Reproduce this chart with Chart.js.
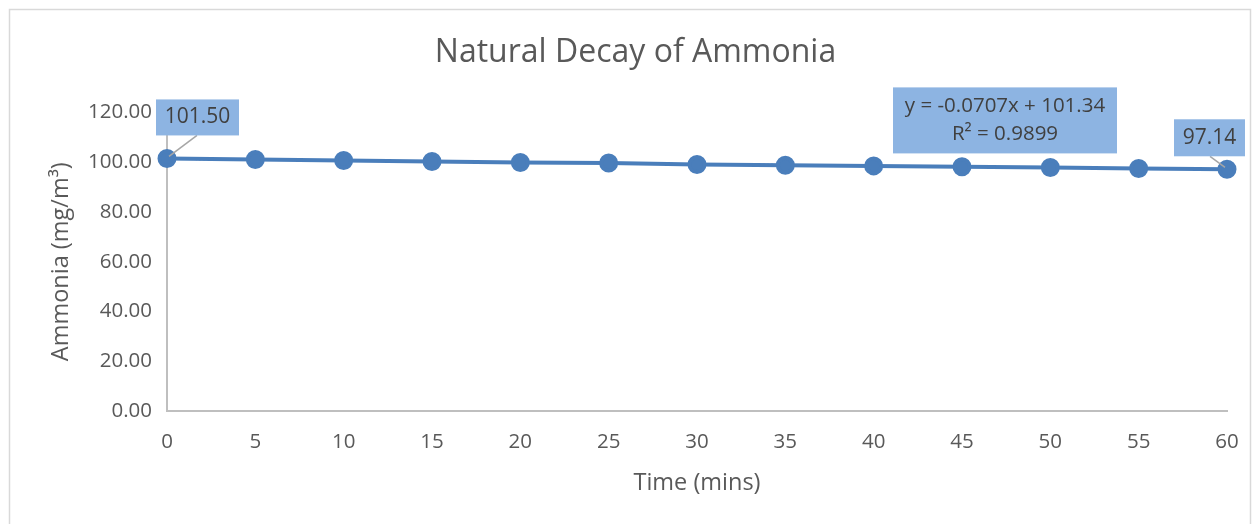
<!DOCTYPE html>
<html>
<head>
<meta charset="utf-8">
<script src="https://cdn.jsdelivr.net/npm/chart.js@4.4.1/dist/chart.umd.min.js"></script>
<style>
  html, body { margin: 0; padding: 0; background: #fff; }
  #wrap { width: 1253px; height: 524px; position: relative; }
</style>
</head>
<body>
<div id="wrap"><canvas id="decayChart"></canvas></div>
<script>
// --- 1. DATA ---
const timeMins = [0, 5, 10, 15, 20, 25, 30, 35, 40, 45, 50, 55, 60];
const ammonia = [101.50, 101.05, 100.65, 100.30, 99.90, 99.65, 99.05, 98.75, 98.50, 98.15, 97.85, 97.45, 97.14];
const trendX = [0, 60];
const trendY = [101.34, 97.10];
const yTicks = [0, 20, 40, 60, 80, 100, 120];
const xTicks = [0, 5, 10, 15, 20, 25, 30, 35, 40, 45, 50, 55, 60];
const trendText = ["y = -0.0707x + 101.34", "R² = 0.9899"];

const FONT = "'Open Sans', sans-serif";
const BLUE = "#4a7ebb";
const LABEL_BG = "#8db4e2";
const GRAY_TXT = "#595959";

// --- 2. PLUGINS ---
const frame = {
    id: 'frame',
    beforeDraw(chart) {
        const c = chart.ctx;
        c.save();
        c.fillStyle = '#fff';
        c.fillRect(0, 0, chart.width, chart.height);
        c.strokeStyle = '#d9d9d9';
        c.lineWidth = 1.5;
        c.strokeRect(9.5, 9.5, 1241, 530);
        c.restore();
    }
};

function drawBox(c, x, y, w, h, lines, lineGap) {
    c.fillStyle = LABEL_BG;
    c.fillRect(x, y, w, h);
    c.fillStyle = '#404040';
    c.textAlign = 'center';
    c.textBaseline = 'middle';
    const cy = y + h / 2 - (lines.length - 1) * lineGap / 2;
    lines.forEach((t, i) => c.fillText(t, x + w / 2, cy + i * lineGap));
}

const labels = {
    id: 'labels',
    afterDatasetsDraw(chart) {
        const c = chart.ctx;
        const xs = chart.scales.x, ys = chart.scales.y;
        c.save();
        // first point label
        const p0x = xs.getPixelForValue(timeMins[0]);
        const p0y = ys.getPixelForValue(ammonia[0]);
        c.strokeStyle = '#a6a6a6';
        c.lineWidth = 1.5;
        c.beginPath(); c.moveTo(p0x + 30, p0y - 23); c.lineTo(p0x + 2, p0y - 2); c.stroke();
        c.font = `21px ${FONT}`;
        drawBox(c, p0x - 11, p0y - 59, 83, 36, [ammonia[0].toFixed(2)], 0);

        // last point label
        const n = ammonia.length - 1;
        const pnx = xs.getPixelForValue(timeMins[n]);
        const pny = ys.getPixelForValue(ammonia[n]);
        c.beginPath(); c.moveTo(pnx - 17, pny - 13); c.lineTo(pnx - 2, pny - 2); c.stroke();
        drawBox(c, pnx - 53, pny - 50, 71, 37, [ammonia[n].toFixed(2)], 0);

        // trendline equation
        c.font = `20.5px ${FONT}`;
        drawBox(c, chart.chartArea.left + 726, chart.chartArea.top - 25, 224, 66, trendText, 28);
        c.restore();
    }
};

// --- 3. CHART ---
new Chart(document.getElementById('decayChart'), {
    type: 'scatter',
    data: {
        datasets: [
            {
                label: 'Ammonia',
                data: timeMins.map((t, i) => ({ x: t, y: ammonia[i] })),
                showLine: true,
                borderColor: BLUE,
                backgroundColor: BLUE,
                borderWidth: 4,
                pointRadius: 7.5,
                pointHoverRadius: 7.5,
                tension: 0,
                clip: false,
                order: 1
            },
            {
                label: 'Linear trend',
                data: trendX.map((t, i) => ({ x: t, y: trendY[i] })),
                showLine: true,
                borderColor: BLUE,
                borderWidth: 2,
                borderDash: [2, 2],
                pointRadius: 0,
                clip: false,
                order: 2
            }
        ]
    },
    options: {
        responsive: true,
        maintainAspectRatio: false,
        animation: false,
        events: [],
        layout: { padding: { left: 44, right: 26, top: 10, bottom: 10 } },
        plugins: {
            legend: { display: false },
            tooltip: { enabled: false },
            title: {
                display: true,
                text: 'Natural Decay of Ammonia',
                color: GRAY_TXT,
                font: { family: FONT, size: 32, weight: 'normal', lineHeight: 1.2 },
                padding: { top: 24, bottom: 40 }
            }
        },
        scales: {
            x: {
                type: 'linear',
                min: 0, max: 60,
                afterBuildTicks: s => { s.ticks = xTicks.map(v => ({ value: v })); },
                afterFit: s => { s.height = 103; s.paddingLeft = 0; s.paddingRight = 0; },
                grid: { display: false, drawTicks: false },
                border: { display: true, color: '#bfbfbf', width: 2 },
                ticks: { color: GRAY_TXT, font: { family: FONT, size: 20.5 }, padding: 19, maxRotation: 0 },
                title: {
                    display: true, text: 'Time (mins)', color: GRAY_TXT,
                    font: { family: FONT, size: 23.5, lineHeight: 1.2 },
                    padding: { top: 4, bottom: 17 }
                }
            },
            y: {
                min: 0, max: 120,
                afterBuildTicks: s => { s.ticks = yTicks.map(v => ({ value: v })); },
                afterFit: s => { s.width = 167 - 44; },
                grid: { display: false, drawTicks: false },
                border: { display: true, color: '#bfbfbf', width: 2 },
                ticks: { color: GRAY_TXT, font: { family: FONT, size: 20.5 }, padding: 15, callback: v => v.toFixed(2) },
                title: {
                    display: true, text: 'Ammonia (mg/m³)', color: GRAY_TXT,
                    font: { family: FONT, size: 23.5, lineHeight: 1.2 },
                    padding: { top: 3, bottom: 4 }
                }
            }
        }
    },
    plugins: [frame, labels]
});
</script>
</body>
</html>
